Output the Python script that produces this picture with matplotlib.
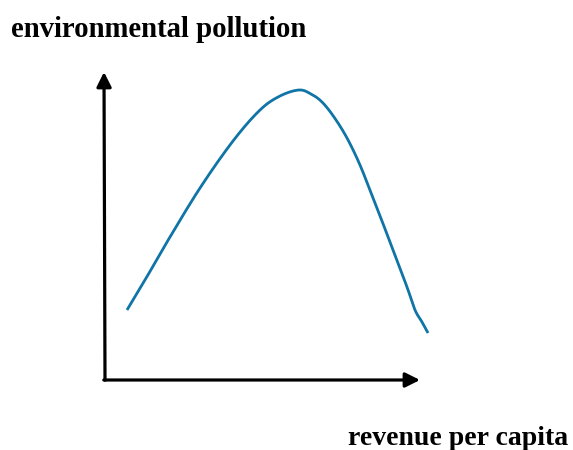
import matplotlib
matplotlib.use("Agg")
import matplotlib.pyplot as plt
import numpy as np

# Curve values (revenue per capita vs environmental pollution, arbitrary units)
revenue = [22, 40, 62, 95, 128, 155, 175, 194, 206, 217, 229, 242, 255, 268, 277, 288, 302, 310, 317, 323]
pollution = [69, 99, 137, 191, 238, 269, 283, 289, 285, 277, 262, 241, 214, 181, 158, 129, 92, 69, 57, 46]

y_label = "environmental pollution"
x_label = "revenue per capita"


def catmull_rom(xs, ys, n=20):
    p = np.column_stack([xs, ys]).astype(float)
    p = np.vstack([2 * p[0] - p[1], p, 2 * p[-1] - p[-2]])
    out = []
    t = np.linspace(0, 1, n, endpoint=False)[:, None]
    for i in range(1, len(p) - 2):
        p0, p1, p2, p3 = p[i - 1], p[i], p[i + 1], p[i + 2]
        seg = 0.5 * ((2 * p1) + (-p0 + p2) * t + (2 * p0 - 5 * p1 + 4 * p2 - p3) * t ** 2
                     + (-p0 + 3 * p1 - 3 * p2 + p3) * t ** 3)
        out.append(seg)
    out.append(p[-2][None, :])
    out = np.vstack(out)
    return out[:, 0], out[:, 1]


fig = plt.figure(figsize=(5.73, 4.5), dpi=100)
ax = fig.add_axes([0, 0, 1, 1])
ax.set_xlim(-105, 468)
ax.set_ylim(-71, 379)
ax.axis("off")

cx, cy = catmull_rom(revenue, pollution)
ax.plot(cx, cy, color="#0f74a6", lw=2.0, solid_capstyle="butt")

arrow = dict(arrowstyle="-|>", lw=2.3, color="black", mutation_scale=22, shrinkA=0, shrinkB=0)
ax.annotate("", xy=(-1, 307), xytext=(0, -1.2), arrowprops=arrow)
ax.annotate("", xy=(315, -1), xytext=(-1.2, -1), arrowprops=arrow)

font = dict(family=["Liberation Serif", "DejaVu Serif"], weight="bold", size=16)
t1 = fig.text(11 / 573, 1 - 37 / 450, y_label, ha="left", va="baseline", **font)
t2 = fig.text(568 / 573, 1 - 445 / 450, x_label, ha="right", va="baseline", **font)

fig.canvas.draw()
r = fig.canvas.get_renderer()
for t, target in ((t1, 297), (t2, 220)):
    w = t.get_window_extent(r).width
    t.set_fontsize(16 * target / w)

fig.savefig("out.png", dpi=100)
